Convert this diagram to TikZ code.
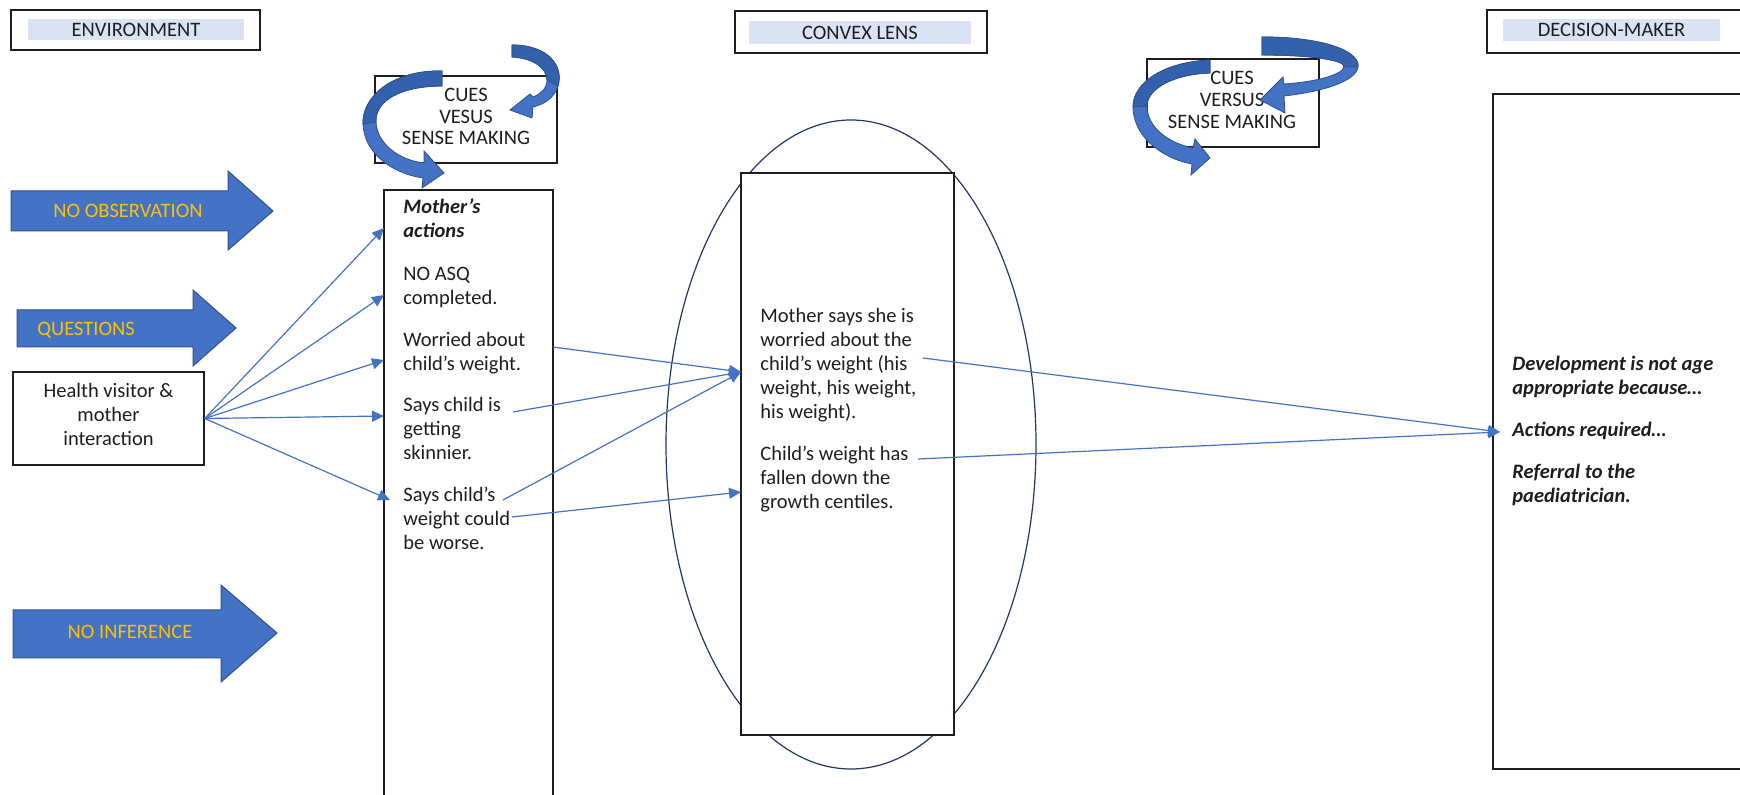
\documentclass[tikz,border=0pt]{standalone}
\usepackage{fontspec}
\setmainfont{Carlito}
\usetikzlibrary{arrows.meta,shapes.geometric}
\definecolor{accent}{HTML}{4472C4}
\definecolor{accentdark}{HTML}{2F528F}
\definecolor{backblue}{HTML}{3461AC}
\definecolor{gold}{HTML}{FFC000}
\definecolor{tint}{HTML}{DAE3F3}
\definecolor{navy}{HTML}{203864}
\definecolor{ink}{HTML}{1E1E1E}
\begin{document}
\begin{tikzpicture}[x=0.5pt,y=-0.5pt,
  every node/.style={font=\fontsize{10.25pt}{12pt}\selectfont, text=ink},
  titlebox/.style={draw=ink, line width=1pt, inner sep=0pt},
  tintbar/.style={fill=tint, inner sep=0pt},
  panel/.style={draw=ink, line width=0.75pt, inner sep=0pt},
  txtline/.style={anchor=base west, inner sep=0pt},
  ctrline/.style={anchor=base, inner sep=0pt},
  emph/.style={font=\fontsize{10.25pt}{12pt}\selectfont\bfseries\itshape},
  conn/.style={draw=accent, line width=0.6pt, -{Triangle[length=6pt,width=5.5pt]}},
  blockarrow/.style={fill=accent, draw=accentdark, line width=0.5pt},
  bandback/.style={fill=backblue, draw=accentdark, line width=0.4pt},
  bandfront/.style={fill=accent, draw=accentdark, line width=0.4pt},
  arrowlabel/.style={text=gold, inner sep=0pt}]

\useasboundingbox (0,0) rectangle (1740,795);
\fill[white] (0,0) rectangle (1740,795);
\clip (0,0) rectangle (1740,795);

% ---- column titles ----
\node[titlebox, minimum width=124.5pt, minimum height=20pt] (envbox) at (135.5,30) {};
\node[tintbar, minimum width=108pt, minimum height=10.5pt] (envbar) at (136,29.5) {ENVIRONMENT};
\node[titlebox, minimum width=126pt, minimum height=21pt] (lensbox) at (861,32) {};
\node[tintbar, minimum width=111pt, minimum height=11.5pt] (lensbar) at (860,32.5) {CONVEX LENS};
\node[titlebox, minimum width=129pt, minimum height=21.5pt] (dmbox) at (1616,31.5) {};
\node[tintbar, minimum width=108.5pt, minimum height=11pt] (dmbar) at (1611.5,30) {DECISION-MAKER};

% ---- block arrows on the left ----
\draw[blockarrow] (11,191) -- (228,191) -- (228,171) -- (273,211) -- (228,250) -- (228,231) -- (11,231) -- cycle;
\node[arrowlabel] (obs) at (128,211) {NO OBSERVATION};
\draw[blockarrow] (17,310) -- (193,310) -- (193,290) -- (236,328) -- (193,366) -- (193,347) -- (17,347) -- cycle;
\node[arrowlabel, anchor=west] (qst) at (37,330) {QUESTIONS};
\draw[blockarrow] (13,610) -- (221,610) -- (221,585) -- (277,633) -- (221,682) -- (221,658) -- (13,658) -- cycle;
\node[arrowlabel] (inf) at (130,632) {NO INFERENCE};

% ---- health visitor box ----
\node[panel, minimum width=95.5pt, minimum height=46.5pt] (hv) at (108.5,418.5) {};
\node[ctrline] (hv1) at (108.5,398) {Health visitor \&};
\node[ctrline] (hv2) at (108.5,422) {mother};
\node[ctrline] (hv3) at (108.5,446) {interaction};

% ---- mother's actions column ----
\node[panel, minimum width=84.5pt, minimum height=312pt] (mbox) at (468.5,502) {};
\node[txtline, emph] (m1) at (403,214) {Mother’s};
\node[txtline, emph] (m2) at (403,238) {actions};
\node[txtline] (m3) at (403,281) {NO ASQ};
\node[txtline] (m4) at (403,305) {completed.};
\node[txtline] (m5) at (403,347) {Worried about};
\node[txtline] (m6) at (403,371) {child’s weight.};
\node[txtline] (m7) at (403,412) {Says child is};
\node[txtline] (m8) at (403,436) {getting};
\node[txtline] (m9) at (403,460) {skinnier.};
\node[txtline] (m10) at (403,502) {Says child’s};
\node[txtline] (m11) at (403,526) {weight could};
\node[txtline] (m12) at (403,550) {be worse.};

% ---- cues versus sense making (left) ----
\node[panel, minimum width=91pt, minimum height=43.5pt] (cuesL) at (466,119.5) {};
\node[ctrline] (cl1) at (466,101.5) {CUES};
\node[ctrline] (cl2) at (466,123.5) {VESUS};
\node[ctrline] (cl3) at (466,144.5) {SENSE MAKING};

% ---- convex lens ----
\node[draw=navy, line width=0.6pt, ellipse, inner sep=0pt, minimum width=185pt, minimum height=324.5pt] (lens) at (851,444.5) {};
\node[panel, fill=white, minimum width=106.5pt, minimum height=281pt] (lbox) at (847.5,454) {};
\node[txtline] (l1) at (760,323) {Mother says she is};
\node[txtline] (l2) at (760,347) {worried about the};
\node[txtline] (l3) at (760,371) {child’s weight (his};
\node[txtline] (l4) at (760,395) {weight, his weight,};
\node[txtline] (l5) at (760,419) {his weight).};
\node[txtline] (l6) at (760,461) {Child’s weight has};
\node[txtline] (l7) at (760,485) {fallen down the};
\node[txtline] (l8) at (760,509) {growth centiles.};

% ---- cues versus sense making (right) ----
\node[panel, minimum width=86pt, minimum height=44pt] (cuesR) at (1233,103) {};
\node[ctrline] (cr1) at (1232,84.5) {CUES};
\node[ctrline] (cr2) at (1232,106.5) {VERSUS};
\node[ctrline] (cr3) at (1232,128.5) {SENSE MAKING};

% ---- decision-maker column ----
\node[panel, minimum width=130pt, minimum height=337.5pt] (dbox) at (1623,431.5) {};
\node[txtline, emph] (d1) at (1512,371) {Development is not age};
\node[txtline, emph] (d2) at (1512,395) {appropriate because…};
\node[txtline, emph] (d3) at (1512,437) {Actions required…};
\node[txtline, emph] (d4) at (1512,479) {Referral to the};
\node[txtline, emph] (d5) at (1512,503) {paediatrician.};

% ---- curved arrows round the left cues box ----
\path[bandfront] (442,71) .. controls (392,70) and (362,97) .. (363,124)
  .. controls (364,152) and (390,173) .. (423,178) -- (422,188) -- (444,173) -- (424,151) -- (424,163)
  .. controls (398,160) and (377,143) .. (376,122) .. controls (375,100) and (402,86) .. (442,86) -- cycle;
\path[bandback] (442,71) .. controls (392,70) and (362,97) .. (363,124) -- (376,122)
  .. controls (375,100) and (402,86) .. (442,86) -- cycle;
\path[bandfront] (512,45) .. controls (548,45) and (564,66) .. (558,86)
  .. controls (554,98) and (545,104) .. (533,107) -- (532,118) -- (510,110) -- (530,94) -- (533,97)
  .. controls (541,94) and (547,88) .. (547,80) .. controls (547,68) and (533,58) .. (512,57) -- cycle;
\path[bandback] (512,45) .. controls (548,45) and (564,66) .. (558,86) -- (547,80)
  .. controls (547,68) and (533,58) .. (512,57) -- cycle;

% ---- curved arrows round the right cues box ----
\path[bandfront] (1262,37) .. controls (1320,37) and (1360,50) .. (1358,67)
  .. controls (1356,82) and (1320,92) .. (1284,96) -- (1285,113) -- (1260,100) -- (1283,77) -- (1284,84)
  .. controls (1315,82) and (1342,75) .. (1344,67) .. controls (1346,60) and (1310,55) .. (1262,55) -- cycle;
\path[bandback] (1262,37) .. controls (1320,37) and (1360,50) .. (1358,67) -- (1344,67)
  .. controls (1346,60) and (1310,55) .. (1262,55) -- cycle;
\path[bandfront] (1210,60) .. controls (1165,62) and (1133,82) .. (1133,107)
  .. controls (1133,135) and (1160,158) .. (1192,164) -- (1191,175) -- (1210,158) -- (1195,139) -- (1193,148)
  .. controls (1168,143) and (1147,127) .. (1147,106) .. controls (1147,88) and (1175,74) .. (1210,73) -- cycle;
\path[bandback] (1210,60) .. controls (1165,62) and (1133,82) .. (1133,107) -- (1147,106)
  .. controls (1147,88) and (1175,74) .. (1210,73) -- cycle;

% ---- connector end points ----
\coordinate (ma1) at (384,228);
\coordinate (ma2) at (384,295);
\coordinate (ma3) at (384,360);
\coordinate (ma4) at (384,416);
\coordinate (ma5) at (390,500);
\coordinate (src1) at (553,347);
\coordinate (src2) at (513,412);
\coordinate (src3) at (503,500);
\coordinate (src4) at (512,517);
\coordinate (lt1) at (741,372);
\coordinate (lt2) at (741,492);
\coordinate (ls1) at (923,358);
\coordinate (ls2) at (918,459);
\coordinate (dmt) at (1500,432);

% ---- connectors ----
\foreach \t in {ma1,ma2,ma3,ma4,ma5} \draw[conn] (hv.east) -- (\t);
\draw[conn] (src1) -- (lt1);
\draw[conn] (src2) -- (lt1);
\draw[conn] (src3) -- (lt1);
\draw[conn] (src4) -- (lt2);
\draw[conn] (ls1) -- (dmt);
\draw[conn] (ls2) -- (dmt);
\end{tikzpicture}
\end{document}
